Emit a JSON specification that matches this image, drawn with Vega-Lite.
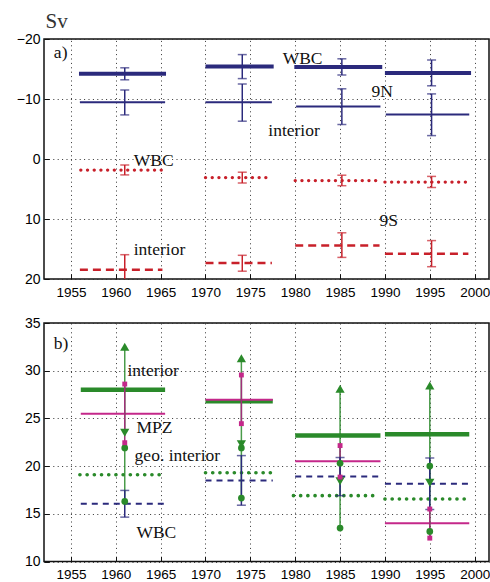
{
  "$schema": "https://vega.github.io/schema/vega-lite/v6.json",
  "padding": {"left": 15, "top": 9, "right": 0, "bottom": 0},
  "spacing": 44,
  "bounds": "flush",
  "datasets": {
    "a": [
      {"series": "9N WBC", "start": 1955.9, "end": 1965.6, "center": 1961, "value": -14.2, "lo": -15.2, "hi": -13.2},
      {"series": "9N WBC", "start": 1970, "end": 1977.6, "center": 1974.1, "value": -15.4, "lo": -17.4, "hi": -13.4},
      {"series": "9N WBC", "start": 1979.9, "end": 1989.7, "center": 1985.2, "value": -15.35, "lo": -16.7, "hi": -14.0},
      {"series": "9N WBC", "start": 1990, "end": 1999.6, "center": 1995.2, "value": -14.35, "lo": -16.5, "hi": -12.2},
      {"series": "9N interior", "start": 1956, "end": 1965.5, "center": 1961, "value": -9.45, "lo": -11.5, "hi": -7.35},
      {"series": "9N interior", "start": 1970, "end": 1977.4, "center": 1974.1, "value": -9.45, "lo": -12.5, "hi": -6.3},
      {"series": "9N interior", "start": 1980.1, "end": 1989.5, "center": 1985.2, "value": -8.75, "lo": -11.7, "hi": -5.75},
      {"series": "9N interior", "start": 1990.1, "end": 1999.4, "center": 1995.2, "value": -7.4, "lo": -10.85, "hi": -3.9},
      {"series": "9S WBC", "start": 1956.1, "end": 1965.2, "center": 1961, "value": 1.85, "lo": 1.0, "hi": 2.65},
      {"series": "9S WBC", "start": 1970, "end": 1977.4, "center": 1974.1, "value": 3.1, "lo": 2.2, "hi": 4.0},
      {"series": "9S WBC", "start": 1980, "end": 1989.4, "center": 1985.2, "value": 3.6, "lo": 2.7, "hi": 4.45},
      {"series": "9S WBC", "start": 1990, "end": 1999.3, "center": 1995.2, "value": 3.85, "lo": 2.9, "hi": 4.75},
      {"series": "9S interior", "start": 1956, "end": 1965.2, "center": 1961, "value": 18.45, "lo": 15.95, "hi": 20.95},
      {"series": "9S interior", "start": 1970, "end": 1977.4, "center": 1974.1, "value": 17.35, "lo": 16.05, "hi": 18.7},
      {"series": "9S interior", "start": 1980, "end": 1989.4, "center": 1985.2, "value": 14.4, "lo": 12.3, "hi": 16.4},
      {"series": "9S interior", "start": 1990, "end": 1999.3, "center": 1995.2, "value": 15.8, "lo": 13.6, "hi": 17.95}
    ],
    "b": [
      {"series": "interior", "start": 1956.1, "end": 1965.5, "center": 1961, "value": 28.0, "lo": 23.5, "hi": 32.5},
      {"series": "interior", "start": 1970, "end": 1977.5, "center": 1974, "value": 26.8, "lo": 22.3, "hi": 31.3},
      {"series": "interior", "start": 1980, "end": 1989.5, "center": 1985, "value": 23.2, "lo": 18.4, "hi": 28.1},
      {"series": "interior", "start": 1990, "end": 1999.4, "center": 1995, "value": 23.35, "lo": 18.25, "hi": 28.45},
      {"series": "MPZ", "start": 1956.1, "end": 1965.5, "center": 1961, "value": 25.5, "lo": 22.45, "hi": 28.6},
      {"series": "MPZ", "start": 1970, "end": 1977.5, "center": 1974, "value": 26.95, "lo": 24.45, "hi": 29.55},
      {"series": "MPZ", "start": 1980, "end": 1989.5, "center": 1985, "value": 20.5, "lo": 18.85, "hi": 22.15},
      {"series": "MPZ", "start": 1990, "end": 1999.4, "center": 1995, "value": 14.0, "lo": 12.45, "hi": 15.5},
      {"series": "geo. interior", "start": 1956, "end": 1965.2, "center": 1961, "value": 19.1, "lo": 16.3, "hi": 21.9},
      {"series": "geo. interior", "start": 1970, "end": 1977.4, "center": 1974, "value": 19.3, "lo": 16.65, "hi": 21.9},
      {"series": "geo. interior", "start": 1979.8, "end": 1989.1, "center": 1985, "value": 16.9, "lo": 13.5, "hi": 20.3},
      {"series": "geo. interior", "start": 1990, "end": 1999, "center": 1995, "value": 16.55, "lo": 13.15, "hi": 20.0},
      {"series": "WBC", "start": 1956.1, "end": 1965.4, "center": 1961, "value": 16.05, "lo": 14.65, "hi": 17.45},
      {"series": "WBC", "start": 1970, "end": 1977.5, "center": 1974, "value": 18.5, "lo": 15.9, "hi": 21.1},
      {"series": "WBC", "start": 1980, "end": 1989.3, "center": 1985, "value": 18.9, "lo": 16.9, "hi": 20.9},
      {"series": "WBC", "start": 1990, "end": 1999.3, "center": 1995, "value": 18.15, "lo": 15.45, "hi": 20.85}
    ],
    "ta": [
      {"label": "a)", "x": 1953.1, "y": -16.9},
      {"label": "WBC", "x": 1978.6, "y": -15.9},
      {"label": "9N", "x": 1988.5, "y": -10.4},
      {"label": "interior", "x": 1977.0, "y": -3.9},
      {"label": "WBC", "x": 1962.0, "y": 1.1},
      {"label": "interior", "x": 1962.0, "y": 16.0},
      {"label": "9S", "x": 1989.4, "y": 11.1}
    ],
    "tb": [
      {"label": "b)", "x": 1953.1, "y": 32.3},
      {"label": "interior", "x": 1961.3, "y": 29.4},
      {"label": "MPZ", "x": 1962.3, "y": 23.45},
      {"label": "geo. interior", "x": 1962.1, "y": 20.5},
      {"label": "WBC", "x": 1962.3, "y": 12.45}
    ]
  },
  "vconcat": [
    {
      "width": 445,
      "height": 240,
      "layer": [
        {
          "data": {"name": "a"},
          "transform": [{"filter": "datum.series === '9N WBC'"}],
          "mark": {"type": "rule", "color": "#2b2a7c", "strokeWidth": 4},
          "encoding": {
            "x": {"field": "start", "type": "quantitative", "scale": {"domain": [1952, 2001.6], "nice": false, "zero": false}, "axis": {"values": [1955, 1960, 1965, 1970, 1975, 1980, 1985, 1990, 1995, 2000], "format": "d", "title": null}},
            "x2": {"field": "end"},
            "y": {"field": "value", "type": "quantitative", "scale": {"domain": [-20, 20], "reverse": true, "nice": false, "zero": false}, "axis": {"values": [-20, -15, -10, -5, 0, 5, 10, 15, 20], "format": "d", "labelExpr": "replace(datum.label, '-', '\u2212')", "title": "Sv", "titleAngle": 0, "titleAlign": "left", "titleBaseline": "alphabetic", "titleX": 1, "titleY": -12, "titleFont": "Liberation Serif", "titleFontSize": 21, "titleFontWeight": "normal", "titleColor": "#333"}}
          }
        },
        {
          "data": {"name": "a"},
          "transform": [{"filter": "datum.series === '9N interior'"}],
          "mark": {"type": "rule", "color": "#2b2a7c", "strokeWidth": 2},
          "encoding": {
            "x": {"field": "start", "type": "quantitative"},
            "x2": {"field": "end"},
            "y": {"field": "value", "type": "quantitative"}
          }
        },
        {
          "data": {"name": "a"},
          "transform": [{"filter": "datum.series === '9S WBC'"}],
          "mark": {"type": "rule", "color": "#c8202a", "strokeWidth": 3.3, "strokeCap": "round", "strokeDash": [0.1, 6.6]},
          "encoding": {
            "x": {"field": "start", "type": "quantitative"},
            "x2": {"field": "end"},
            "y": {"field": "value", "type": "quantitative"}
          }
        },
        {
          "data": {"name": "a"},
          "transform": [{"filter": "datum.series === '9S interior'"}],
          "mark": {"type": "rule", "color": "#c8202a", "strokeWidth": 2.5, "strokeDash": [8, 5]},
          "encoding": {
            "x": {"field": "start", "type": "quantitative"},
            "x2": {"field": "end"},
            "y": {"field": "value", "type": "quantitative"}
          }
        },
        {
          "data": {"name": "a"},
          "transform": [{"filter": "indexof(datum.series, '9N') === 0"}],
          "mark": {"type": "rule", "color": "#2b2a7c", "strokeWidth": 1.5},
          "encoding": {
            "x": {"field": "center", "type": "quantitative"},
            "y": {"field": "lo", "type": "quantitative"},
            "y2": {"field": "hi"}
          }
        },
        {
          "data": {"name": "a"},
          "transform": [{"filter": "indexof(datum.series, '9N') === 0"}, {"fold": ["lo", "hi"], "as": ["end_", "cap"]}],
          "mark": {"type": "tick", "orient": "horizontal", "color": "#2b2a7c", "size": 9, "thickness": 1.5},
          "encoding": {
            "x": {"field": "center", "type": "quantitative"},
            "y": {"field": "cap", "type": "quantitative"}
          }
        },
        {
          "data": {"name": "a"},
          "transform": [{"filter": "indexof(datum.series, '9S') === 0"}],
          "mark": {"type": "rule", "color": "#c8202a", "strokeWidth": 1.5, "clip": true},
          "encoding": {
            "x": {"field": "center", "type": "quantitative"},
            "y": {"field": "lo", "type": "quantitative"},
            "y2": {"field": "hi"}
          }
        },
        {
          "data": {"name": "a"},
          "transform": [{"filter": "indexof(datum.series, '9S') === 0"}, {"fold": ["lo", "hi"], "as": ["end_", "cap"]}],
          "mark": {"type": "tick", "orient": "horizontal", "color": "#c8202a", "size": 9, "thickness": 1.5, "clip": true},
          "encoding": {
            "x": {"field": "center", "type": "quantitative"},
            "y": {"field": "cap", "type": "quantitative"}
          }
        },
        {
          "data": {"name": "ta"},
          "mark": {"type": "text", "align": "left", "baseline": "alphabetic", "font": "Liberation Serif", "fontSize": 17.5, "color": "#111"},
          "encoding": {
            "x": {"field": "x", "type": "quantitative"},
            "y": {"field": "y", "type": "quantitative"},
            "text": {"field": "label"}
          }
        }
      ]
    },
    {
      "width": 445,
      "height": 238.5,
      "layer": [
        {
          "data": {"name": "b"},
          "transform": [{"filter": "datum.series === 'interior'"}],
          "mark": {"type": "rule", "color": "#2a8a2a", "strokeWidth": 4.5},
          "encoding": {
            "x": {"field": "start", "type": "quantitative", "scale": {"domain": [1952, 2001.6], "nice": false, "zero": false}, "axis": {"values": [1955, 1960, 1965, 1970, 1975, 1980, 1985, 1990, 1995, 2000], "format": "d", "title": null}},
            "x2": {"field": "end"},
            "y": {"field": "value", "type": "quantitative", "scale": {"domain": [10, 35], "nice": false, "zero": false}, "axis": {"values": [10, 15, 20, 25, 30, 35], "format": "d", "title": null}}
          }
        },
        {
          "data": {"name": "b"},
          "transform": [{"filter": "datum.series === 'MPZ'"}],
          "mark": {"type": "rule", "color": "#c4288a", "strokeWidth": 2},
          "encoding": {
            "x": {"field": "start", "type": "quantitative"},
            "x2": {"field": "end"},
            "y": {"field": "value", "type": "quantitative"}
          }
        },
        {
          "data": {"name": "b"},
          "transform": [{"filter": "datum.series === 'geo. interior'"}],
          "mark": {"type": "rule", "color": "#2a8a2a", "strokeWidth": 3.6, "strokeCap": "round", "strokeDash": [0.1, 7.1]},
          "encoding": {
            "x": {"field": "start", "type": "quantitative"},
            "x2": {"field": "end"},
            "y": {"field": "value", "type": "quantitative"}
          }
        },
        {
          "data": {"name": "b"},
          "transform": [{"filter": "datum.series === 'WBC'"}],
          "mark": {"type": "rule", "color": "#2b2a7c", "strokeWidth": 2, "strokeDash": [6, 5]},
          "encoding": {
            "x": {"field": "start", "type": "quantitative"},
            "x2": {"field": "end"},
            "y": {"field": "value", "type": "quantitative"}
          }
        },
        {
          "data": {"name": "b"},
          "transform": [{"filter": "datum.series === 'interior' || datum.series === 'geo. interior'"}],
          "mark": {"type": "rule", "color": "#2a8a2a", "strokeWidth": 1.5, "opacity": 0.85},
          "encoding": {
            "x": {"field": "center", "type": "quantitative"},
            "y": {"field": "lo", "type": "quantitative"},
            "y2": {"field": "hi"}
          }
        },
        {
          "data": {"name": "b"},
          "transform": [{"filter": "datum.series === 'MPZ'"}],
          "mark": {"type": "rule", "color": "#a0307a", "strokeWidth": 1.5},
          "encoding": {
            "x": {"field": "center", "type": "quantitative"},
            "y": {"field": "lo", "type": "quantitative"},
            "y2": {"field": "hi"}
          }
        },
        {
          "data": {"name": "b"},
          "transform": [{"filter": "datum.series === 'WBC'"}],
          "mark": {"type": "rule", "color": "#2b2a7c", "strokeWidth": 1.5},
          "encoding": {
            "x": {"field": "center", "type": "quantitative"},
            "y": {"field": "lo", "type": "quantitative"},
            "y2": {"field": "hi"}
          }
        },
        {
          "data": {"name": "b"},
          "transform": [{"filter": "datum.series === 'WBC'"}, {"fold": ["lo", "hi"], "as": ["end_", "cap"]}],
          "mark": {"type": "tick", "orient": "horizontal", "color": "#2b2a7c", "size": 9, "thickness": 1.5},
          "encoding": {
            "x": {"field": "center", "type": "quantitative"},
            "y": {"field": "cap", "type": "quantitative"}
          }
        },
        {
          "data": {"name": "b"},
          "transform": [{"filter": "datum.series === 'geo. interior'"}, {"fold": ["lo", "hi"], "as": ["end_", "cap"]}],
          "mark": {"type": "point", "shape": "circle", "filled": true, "color": "#2a8a2a", "size": 45, "opacity": 1},
          "encoding": {
            "x": {"field": "center", "type": "quantitative"},
            "y": {"field": "cap", "type": "quantitative"}
          }
        },
        {
          "data": {"name": "b"},
          "transform": [{"filter": "datum.series === 'interior'"}],
          "mark": {"type": "point", "shape": "triangle-up", "filled": true, "color": "#2a8a2a", "size": 85, "opacity": 1},
          "encoding": {
            "x": {"field": "center", "type": "quantitative"},
            "y": {"field": "hi", "type": "quantitative"}
          }
        },
        {
          "data": {"name": "b"},
          "transform": [{"filter": "datum.series === 'interior'"}],
          "mark": {"type": "point", "shape": "triangle-down", "filled": true, "color": "#2a8a2a", "size": 85, "opacity": 1},
          "encoding": {
            "x": {"field": "center", "type": "quantitative"},
            "y": {"field": "lo", "type": "quantitative"}
          }
        },
        {
          "data": {"name": "b"},
          "transform": [{"filter": "datum.series === 'MPZ'"}, {"fold": ["lo", "hi"], "as": ["end_", "cap"]}],
          "mark": {"type": "point", "shape": "square", "filled": true, "color": "#c4288a", "size": 24, "opacity": 1},
          "encoding": {
            "x": {"field": "center", "type": "quantitative"},
            "y": {"field": "cap", "type": "quantitative"}
          }
        },
        {
          "data": {"name": "tb"},
          "mark": {"type": "text", "align": "left", "baseline": "alphabetic", "font": "Liberation Serif", "fontSize": 17.5, "color": "#111"},
          "encoding": {
            "x": {"field": "x", "type": "quantitative"},
            "y": {"field": "y", "type": "quantitative"},
            "text": {"field": "label"}
          }
        }
      ]
    }
  ],
  "config": {
    "view": {"stroke": "#111", "strokeWidth": 1.5},
    "axis": {
      "grid": true,
      "gridColor": "#333",
      "gridDash": [1, 3.4],
      "gridWidth": 1,
      "domain": false,
      "ticks": true,
      "tickColor": "#111",
      "tickSize": -5,
      "labelFont": "Liberation Sans",
      "labelFontSize": 14,
      "labelColor": "#000",
      "labelFlush": false,
      "labelOverlap": false
    },
    "axisX": {"labelPadding": 11, "labelFontSize": 13.5},
    "axisY": {"labelPadding": 9}
  }
}
